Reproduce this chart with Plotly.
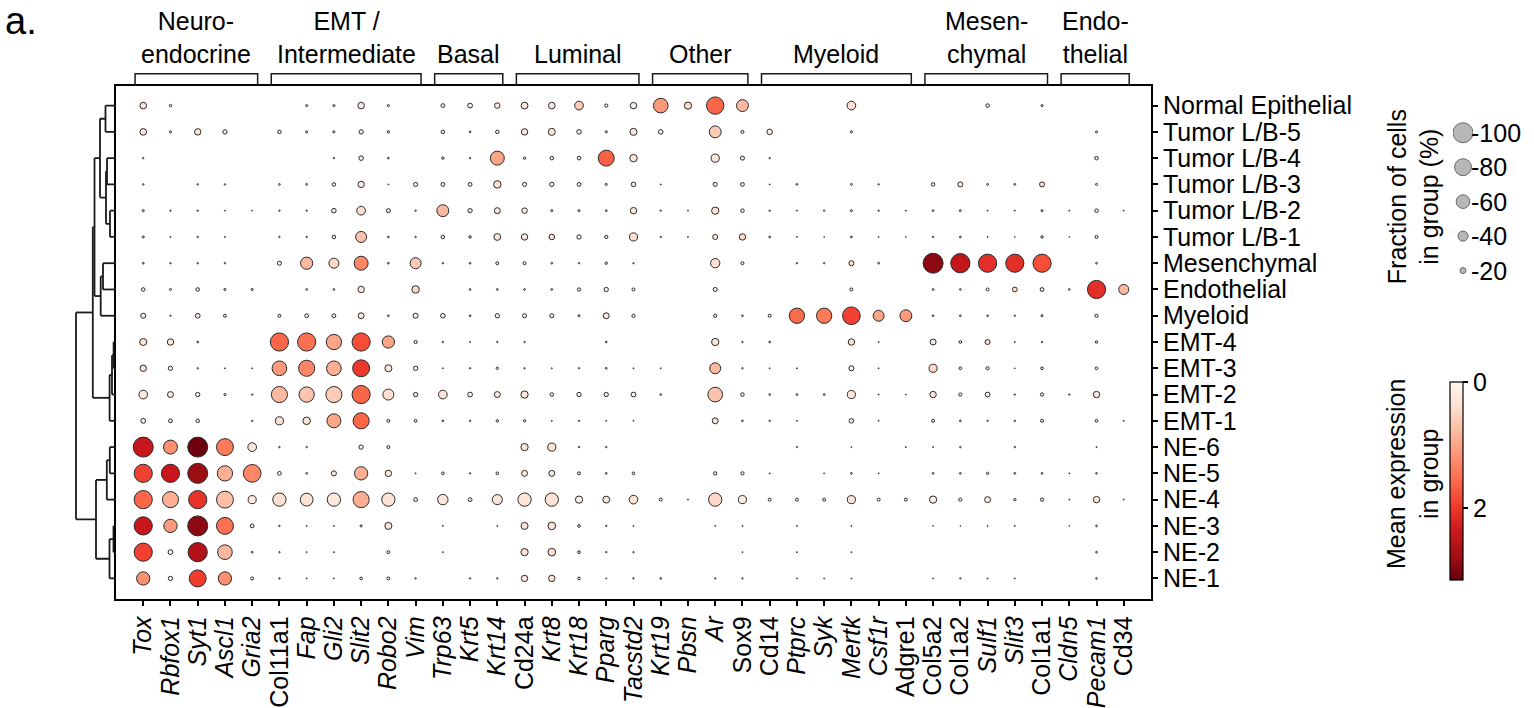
import plotly.graph_objects as go

W, H = 1534, 708
FONT = "Liberation Sans, Arial, sans-serif"

genes = ["Tox", "Rbfox1", "Syt1", "Ascl1", "Gria2", "Col11a1", "Fap", "Gli2", "Slit2", "Robo2", "Vim",
         "Trp63", "Krt5", "Krt14", "Cd24a", "Krt8", "Krt18", "Pparg", "Tacstd2", "Krt19", "Pbsn", "Ar",
         "Sox9", "Cd14", "Ptprc", "Syk", "Mertk", "Csf1r", "Adgre1", "Col5a2", "Col1a2", "Sulf1", "Slit3",
         "Col1a1", "Cldn5", "Pecam1", "Cd34"]
upright_genes = ["Col11a1", "Cd24a", "Sox9", "Cd14", "Adgre1", "Col5a2", "Col1a2", "Col1a1", "Cd34"]

groups = ["Normal Epithelial", "Tumor L/B-5", "Tumor L/B-4", "Tumor L/B-3", "Tumor L/B-2", "Tumor L/B-1",
          "Mesenchymal", "Endothelial", "Myeloid", "EMT-4", "EMT-3", "EMT-2", "EMT-1",
          "NE-6", "NE-5", "NE-4", "NE-3", "NE-2", "NE-1"]

gene_groups = [("Neuro-<br>endocrine", 0, 4), ("EMT /<br>Intermediate", 5, 10), ("Basal", 11, 13),
               ("Luminal", 14, 18), ("Other", 19, 22), ("Myeloid", 23, 28), ("Mesen-<br>chymal", 29, 33),
               ("Endo-<br>thelial", 34, 36)]

# fraction of cells expressing (%) per group (rows) x gene (cols)
frac = [
    [23, 6, 0, 0, 0, 0, 5, 5, 23, 5, 0, 11, 15, 18, 24, 23, 33, 9, 22, 66, 26, 83, 50, 0, 0, 0, 33, 0, 0, 0, 0, 10, 0, 5, 0, 0, 0],
    [23, 5, 22, 13, 0, 10, 5, 5, 13, 6, 0, 10, 4, 10, 22, 25, 14, 5, 25, 14, 0, 50, 8, 18, 0, 0, 5, 0, 0, 0, 0, 0, 0, 0, 0, 5, 0],
    [3, 0, 0, 0, 0, 0, 0, 3, 14, 4, 0, 6, 3, 62, 6, 10, 10, 74, 27, 0, 0, 30, 12, 3, 0, 0, 0, 0, 0, 0, 0, 0, 0, 0, 0, 10, 0],
    [3, 0, 3, 3, 0, 4, 4, 10, 22, 2, 12, 11, 11, 27, 12, 13, 11, 5, 14, 2, 0, 12, 11, 2, 4, 0, 4, 3, 0, 10, 16, 4, 4, 16, 0, 5, 0],
    [5, 3, 3, 2, 2, 3, 3, 14, 33, 12, 3, 50, 13, 20, 18, 5, 5, 4, 22, 3, 2, 26, 10, 3, 2, 3, 5, 3, 2, 4, 5, 2, 2, 5, 2, 10, 2],
    [5, 2, 3, 2, 0, 3, 3, 10, 45, 4, 3, 10, 6, 24, 22, 18, 13, 9, 30, 3, 2, 16, 22, 4, 2, 1.5, 4, 2, 1.5, 3, 4, 2, 1.5, 6, 1.5, 8, 0],
    [4, 3, 3, 3, 0, 12, 52, 40, 62, 4, 45, 3, 4, 8, 8, 4, 3, 6, 3, 0, 0, 36, 8, 0, 3, 3, 16, 4, 0, 100, 95, 88, 88, 88, 0, 4, 0],
    [10, 5, 10, 5, 5, 0, 4, 4, 22, 0, 27, 0, 4, 4, 4, 4, 9, 13, 8, 0, 0, 12, 0, 0, 0, 0, 8, 0, 0, 4, 4, 8, 15, 11, 4, 88, 40],
    [16, 3, 15, 8, 0, 8, 11, 11, 20, 4, 16, 14, 4, 13, 12, 12, 5, 20, 9, 0, 0, 9, 4, 8, 70, 70, 85, 45, 50, 4, 4, 4, 3, 5, 0, 9, 0],
    [25, 22, 4, 0, 0, 88, 88, 70, 88, 52, 9, 3, 2, 3, 3, 0, 0, 4, 0, 0, 0, 26, 3, 4, 0, 0, 22, 2, 0, 20, 7, 16, 2, 3, 0, 6, 0],
    [22, 13, 3, 2, 2, 66, 75, 66, 80, 25, 13, 2, 3, 6, 3, 2, 3, 4, 2, 2, 0, 45, 3, 2, 2, 0, 16, 2, 0, 30, 7, 9, 1.5, 7, 0, 7, 0],
    [33, 20, 13, 5, 3, 75, 70, 75, 88, 45, 13, 33, 15, 20, 26, 10, 13, 13, 15, 4, 0, 66, 10, 4, 4, 4, 30, 2, 2, 22, 9, 15, 3, 9, 3, 22, 0],
    [15, 11, 10, 0, 3, 30, 27, 62, 75, 8, 7, 4, 3, 6, 6, 2, 3, 2, 2, 0, 0, 20, 4, 3, 2, 0, 14, 2, 0, 8, 4, 3, 3, 8, 0, 7, 2],
    [100, 62, 100, 80, 33, 3, 3, 0, 13, 8, 0, 0, 0, 0, 26, 30, 3, 3, 0, 0, 0, 0, 0, 0, 2.5, 0, 2, 0, 2, 2, 3, 0, 3, 0, 0, 2, 0],
    [88, 88, 100, 70, 85, 11, 4, 16, 58, 22, 2, 7, 3, 7, 20, 20, 8, 4, 7, 0, 0, 9, 9, 2, 0, 2, 4, 2, 0, 4, 4, 6, 4, 4, 2, 4, 0],
    [88, 75, 88, 80, 30, 58, 55, 58, 75, 58, 11, 42, 11, 40, 58, 58, 26, 24, 33, 8, 2, 58, 30, 8, 8, 8, 30, 8, 8, 26, 9, 20, 6, 9, 2, 22, 2],
    [88, 58, 100, 80, 11, 3, 2, 2, 5, 25, 0, 2, 0, 2, 25, 28, 7, 3, 2, 0, 0, 2, 2, 0, 2, 0, 2, 0, 0, 1.5, 1.5, 2, 2, 0, 1.5, 4, 0],
    [88, 15, 95, 66, 4, 3, 2, 2, 0, 8, 0, 2, 0, 0, 26, 28, 7, 3, 3, 0, 0, 0, 2, 0, 2, 0, 2, 0, 0, 0, 0, 0, 0, 0, 0, 4, 0],
    [58, 13, 80, 58, 8, 3, 2, 2, 7, 8, 3, 0, 3, 3, 22, 22, 7, 2, 3, 4, 0, 3, 3, 0, 2, 2, 2, 0, 0, 2, 3, 2, 2, 0, 0, 4, 0],
]

# mean expression in group
expr = [
    [0.35, 0.1, 0, 0, 0, 0, 0.1, 0.1, 0.3, 0.1, 0, 0.1, 0.15, 0.2, 0.3, 0.3, 0.6, 0.1, 0.2, 1.1, 0.5, 1.6, 0.8, 0, 0, 0, 0.4, 0, 0, 0, 0, 0.1, 0, 0.1, 0, 0, 0],
    [0.3, 0.1, 0.35, 0.1, 0, 0.1, 0.1, 0.1, 0.1, 0.1, 0, 0.1, 0.1, 0.1, 0.3, 0.3, 0.1, 0.1, 0.25, 0.1, 0, 0.6, 0.1, 0.1, 0, 0, 0.1, 0, 0, 0, 0, 0, 0, 0, 0, 0.1, 0],
    [0.1, 0, 0, 0, 0, 0, 0, 0.05, 0.1, 0.1, 0, 0.1, 0.1, 1.0, 0.1, 0.1, 0.1, 1.65, 0.3, 0, 0, 0.3, 0.1, 0.05, 0, 0, 0, 0, 0, 0, 0, 0, 0, 0, 0, 0.1, 0],
    [0.1, 0, 0.1, 0.1, 0, 0.1, 0.1, 0.1, 0.3, 0.05, 0.1, 0.1, 0.1, 0.4, 0.1, 0.1, 0.1, 0.1, 0.15, 0.05, 0, 0.1, 0.1, 0.05, 0.1, 0, 0.1, 0.1, 0, 0.1, 0.3, 0.1, 0.1, 0.3, 0, 0.1, 0],
    [0.1, 0.1, 0.1, 0.05, 0.05, 0.1, 0.1, 0.15, 0.4, 0.1, 0.1, 0.8, 0.1, 0.2, 0.15, 0.1, 0.1, 0.1, 0.25, 0.1, 0.05, 0.35, 0.1, 0.1, 0.05, 0.1, 0.1, 0.1, 0.05, 0.1, 0.1, 0.05, 0.05, 0.1, 0.05, 0.1, 0.05],
    [0.1, 0.05, 0.1, 0.05, 0, 0.1, 0.1, 0.1, 0.7, 0.1, 0.1, 0.1, 0.1, 0.3, 0.2, 0.15, 0.1, 0.1, 0.4, 0.1, 0.05, 0.2, 0.45, 0.1, 0.05, 0.05, 0.1, 0.05, 0.05, 0.1, 0.1, 0.05, 0.05, 0.1, 0.05, 0.1, 0],
    [0.1, 0.1, 0.1, 0.1, 0, 0.1, 0.8, 0.5, 1.3, 0.1, 0.6, 0.1, 0.1, 0.1, 0.1, 0.1, 0.1, 0.1, 0.1, 0, 0, 0.35, 0.1, 0, 0.1, 0.1, 0.3, 0.1, 0, 2.9, 2.45, 2.1, 2.1, 1.8, 0, 0.1, 0],
    [0.1, 0.1, 0.1, 0.1, 0.1, 0, 0.1, 0.1, 0.2, 0, 0.5, 0, 0.1, 0.1, 0.1, 0.1, 0.1, 0.1, 0.1, 0, 0, 0.1, 0, 0, 0, 0, 0.1, 0, 0, 0.1, 0.1, 0.1, 0.4, 0.2, 0.1, 2.1, 0.8],
    [0.15, 0.1, 0.2, 0.1, 0, 0.1, 0.1, 0.1, 0.2, 0.1, 0.1, 0.1, 0.1, 0.1, 0.1, 0.1, 0.1, 0.2, 0.1, 0, 0, 0.1, 0.1, 0.1, 1.55, 1.4, 1.9, 1.0, 1.1, 0.1, 0.1, 0.1, 0.1, 0.1, 0, 0.1, 0],
    [0.3, 0.3, 0.1, 0, 0, 1.6, 1.5, 1.0, 1.8, 1.0, 0.1, 0.1, 0.05, 0.1, 0.1, 0, 0, 0.1, 0, 0, 0, 0.3, 0.1, 0.1, 0, 0, 0.3, 0.05, 0, 0.2, 0.1, 0.3, 0.05, 0.1, 0, 0.1, 0],
    [0.3, 0.1, 0.1, 0.05, 0.05, 1.1, 1.3, 0.9, 2.0, 0.3, 0.1, 0.05, 0.1, 0.1, 0.1, 0.05, 0.1, 0.1, 0.05, 0.05, 0, 0.8, 0.1, 0.05, 0.05, 0, 0.2, 0.05, 0, 0.5, 0.1, 0.1, 0.05, 0.1, 0, 0.1, 0],
    [0.3, 0.2, 0.1, 0.1, 0.1, 0.8, 0.7, 0.6, 1.6, 0.4, 0.1, 0.3, 0.1, 0.15, 0.3, 0.1, 0.1, 0.1, 0.15, 0.1, 0, 0.7, 0.1, 0.1, 0.1, 0.1, 0.3, 0.05, 0.05, 0.3, 0.1, 0.15, 0.1, 0.1, 0.1, 0.2, 0],
    [0.15, 0.1, 0.1, 0, 0.1, 0.4, 0.3, 1.0, 1.6, 0.1, 0.1, 0.1, 0.1, 0.1, 0.1, 0.05, 0.1, 0.05, 0.05, 0, 0, 0.25, 0.1, 0.1, 0.05, 0, 0.1, 0.05, 0, 0.1, 0.1, 0.1, 0.1, 0.1, 0, 0.1, 0.05],
    [2.4, 1.2, 3.1, 1.4, 0.3, 0.1, 0.1, 0, 0.1, 0.1, 0, 0, 0, 0, 0.3, 0.35, 0.1, 0.1, 0, 0, 0, 0, 0, 0, 0.1, 0, 0.05, 0, 0.05, 0.05, 0.1, 0, 0.1, 0, 0, 0.05, 0],
    [1.9, 2.4, 2.8, 0.9, 1.3, 0.1, 0.1, 0.2, 0.9, 0.3, 0.05, 0.1, 0.1, 0.1, 0.2, 0.2, 0.1, 0.1, 0.1, 0, 0, 0.1, 0.1, 0.05, 0, 0.05, 0.1, 0.05, 0, 0.1, 0.1, 0.1, 0.1, 0.1, 0.05, 0.1, 0],
    [1.6, 0.9, 2.05, 0.75, 0.2, 0.4, 0.35, 0.25, 0.9, 0.35, 0.1, 0.3, 0.1, 0.3, 0.3, 0.35, 0.2, 0.25, 0.35, 0.1, 0.05, 0.5, 0.2, 0.1, 0.1, 0.1, 0.3, 0.1, 0.1, 0.2, 0.1, 0.15, 0.1, 0.1, 0.05, 0.2, 0.05],
    [2.4, 1.1, 2.9, 1.5, 0.1, 0.1, 0.05, 0.05, 0.1, 0.3, 0, 0.05, 0, 0.05, 0.3, 0.35, 0.1, 0.1, 0.05, 0, 0, 0.05, 0.05, 0, 0.05, 0, 0.05, 0, 0, 0.05, 0.05, 0.05, 0.05, 0, 0.05, 0.1, 0],
    [1.9, 0.15, 2.6, 0.8, 0.1, 0.1, 0.05, 0.05, 0, 0.1, 0, 0.05, 0, 0, 0.3, 0.4, 0.1, 0.1, 0.1, 0, 0, 0, 0.05, 0, 0.05, 0, 0.05, 0, 0, 0, 0, 0, 0, 0, 0, 0.1, 0],
    [1.2, 0.1, 1.95, 1.2, 0.1, 0.1, 0.05, 0.05, 0.1, 0.1, 0.1, 0, 0.1, 0.1, 0.3, 0.3, 0.1, 0.05, 0.1, 0.1, 0, 0.1, 0.1, 0, 0.05, 0.05, 0.05, 0, 0, 0.05, 0.1, 0.05, 0.05, 0, 0, 0.1, 0],
]

# dendrogram linkage over the row order: (child_a, child_b, height in px left of the plot frame)
linkage = [
    (0, 1, 10.5), (2, 3, 9.0), (4, 5, 6.0), (20, 21, 10.0), (19, 22, 16.0),
    (6, 7, 13.0), (24, 8, 15.3), (23, 25, 21.5), (9, 10, 2.4), (27, 11, 4.0),
    (28, 12, 6.4), (26, 29, 23.2), (13, 14, 6.2), (31, 15, 9.2), (16, 17, 2.5),
    (33, 18, 6.5), (32, 34, 20.0), (30, 35, 40.0),
]

size_legend_vals = [20, 40, 60, 80, 100]
expr_max = 3.14
expr_ticks = [0, 2]

reds = ["#fff5f0", "#fee0d2", "#fcbba1", "#fc9272", "#fb6a4a", "#ef3b2c", "#cb181d", "#a50f15", "#67000d"]
# colour bar runs 0 (top) -> max (bottom): map negated values onto reversed Reds
cscale = [[i / 8, c] for i, c in enumerate(reversed(reds))]


def dot_diam(f):
    return 20.0 * (f / 100.0) ** 0.75


# plot frame in pixels
PX0, PX1, PY0, PY1 = 116, 1151, 86, 602

xs, ys, sz, col = [], [], [], []
for r, row in enumerate(frac):
    for c, f in enumerate(row):
        if f > 0:
            xs.append(c)
            ys.append(r)
            sz.append(dot_diam(f))
            col.append(-expr[r][c])

fig = go.Figure()
fig.add_trace(go.Scatter(
    x=xs, y=ys, mode="markers", xaxis="x", yaxis="y", showlegend=False, hoverinfo="skip",
    marker=dict(size=sz, color=col, colorscale=cscale, cmin=-expr_max, cmax=0,
                line=dict(color="#2a2a2a", width=1), opacity=1,
                colorbar=dict(x=1450 / W, xanchor="left", y=1 - 483 / H, yanchor="middle",
                              len=198, lenmode="pixels", thickness=13, thicknessmode="pixels",
                              xpad=0, ypad=0, outlinewidth=1.2, outlinecolor="black",
                              tickvals=[-t for t in expr_ticks], ticktext=[str(t) for t in expr_ticks],
                              ticks="outside", ticklen=5, tickwidth=1.5, tickcolor="black",
                              tickfont=dict(size=25, family=FONT, color="black"))),
))

# size legend
fig.add_trace(go.Scatter(
    x=[0] * len(size_legend_vals), y=list(range(len(size_legend_vals))), mode="markers",
    xaxis="x2", yaxis="y2", showlegend=False, hoverinfo="skip",
    marker=dict(size=[dot_diam(v) for v in size_legend_vals], color="#9a9a9a",
                line=dict(color="#2a2a2a", width=1)),
))

ticktext = [g if g in upright_genes else f"<i>{g}</i>" for g in genes]

fig.update_layout(
    width=W, height=H, margin=dict(l=0, r=0, t=0, b=0),
    paper_bgcolor="white", plot_bgcolor="white",
    font=dict(family=FONT, size=25, color="black"),
    xaxis=dict(domain=[PX0 / W, PX1 / W], range=[-1, len(genes)], tickmode="array",
               tickvals=list(range(len(genes))), ticktext=ticktext, tickangle=-90,
               ticks="outside", ticklen=5, tickwidth=1.5, tickcolor="black",
               showline=True, linewidth=2, linecolor="black", mirror=True,
               showgrid=False, zeroline=False, tickfont=dict(size=25), anchor="y", fixedrange=True),
    yaxis=dict(domain=[1 - PY1 / H, 1 - PY0 / H], range=[len(groups) - 0.2, -0.76], tickmode="array",
               tickvals=list(range(len(groups))), ticktext=groups, side="right",
               ticks="outside", ticklen=5, tickwidth=1.5, tickcolor="black",
               showline=True, linewidth=2, linecolor="black", mirror=True,
               showgrid=False, zeroline=False, tickfont=dict(size=25), anchor="x", fixedrange=True),
    xaxis2=dict(domain=[1453 / W, 1473 / W], range=[-1, 1], visible=False, anchor="y2", fixedrange=True),
    yaxis2=dict(domain=[1 - 289 / H, 1 - 116 / H], range=[-0.5, len(size_legend_vals) - 0.5],
                visible=False, anchor="x2", fixedrange=True),
)

shapes = []
LINE = dict(color="#1a1a1a", width=1.8)

# dendrogram (x in figure pixels -> paper, y in row units)
node_y = {i: float(i) for i in range(len(groups))}
node_x = {i: PX0 for i in range(len(groups))}
for k, (a, b, h) in enumerate(linkage):
    nid = len(groups) + k
    xn = PX0 - h
    for ch in (a, b):
        shapes.append(dict(type="line", xref="paper", yref="y", x0=node_x[ch] / W, x1=xn / W,
                           y0=node_y[ch], y1=node_y[ch], line=LINE))
    shapes.append(dict(type="line", xref="paper", yref="y", x0=xn / W, x1=xn / W,
                       y0=node_y[a], y1=node_y[b], line=LINE))
    node_x[nid] = xn
    node_y[nid] = (node_y[a] + node_y[b]) / 2

# gene-group brackets
yt, yl = 1 - 74 / H, 1 - 86 / H
annotations = []
for label, s, e in gene_groups:
    x0, x1 = s - 0.3, e + 0.2
    shapes.append(dict(type="path", xref="x", yref="paper",
                       path=f"M {x0},{yl} L {x0},{yt} L {x1},{yt} L {x1},{yl}",
                       line=dict(color="#1a1a1a", width=1.5)))
    annotations.append(dict(x=(x0 + x1) / 2, y=1 - 70 / H, xref="x", yref="paper", text=label,
                            showarrow=False, xanchor="center", yanchor="bottom",
                            font=dict(size=25, family=FONT)))

# size legend labels
for i, v in enumerate(size_legend_vals):
    annotations.append(dict(x=1469 / W, y=i, xref="paper", yref="y2", text=f"-{v}", showarrow=False,
                            xanchor="left", yanchor="middle", font=dict(size=25, family=FONT)))

annotations += [
    dict(x=1413 / W, y=1 - 198 / H, xref="paper", yref="paper", text="Fraction of cells<br>in group (%)",
         textangle=-90, showarrow=False, xanchor="center", yanchor="middle", font=dict(size=25, family=FONT)),
    dict(x=1413 / W, y=1 - 476 / H, xref="paper", yref="paper", text="Mean expression<br>in group",
         textangle=-90, showarrow=False, xanchor="center", yanchor="middle", font=dict(size=25, family=FONT)),
    dict(x=3 / W, y=1 - 21 / H, xref="paper", yref="paper", text="a.", showarrow=False,
         xanchor="left", yanchor="middle", font=dict(size=38, family=FONT)),
]

fig.update_layout(shapes=shapes, annotations=annotations)
fig.write_html("out.html", config={"displayModeBar": False},
               post_script="document.body.style.margin='0px';document.body.style.overflow='hidden';")
